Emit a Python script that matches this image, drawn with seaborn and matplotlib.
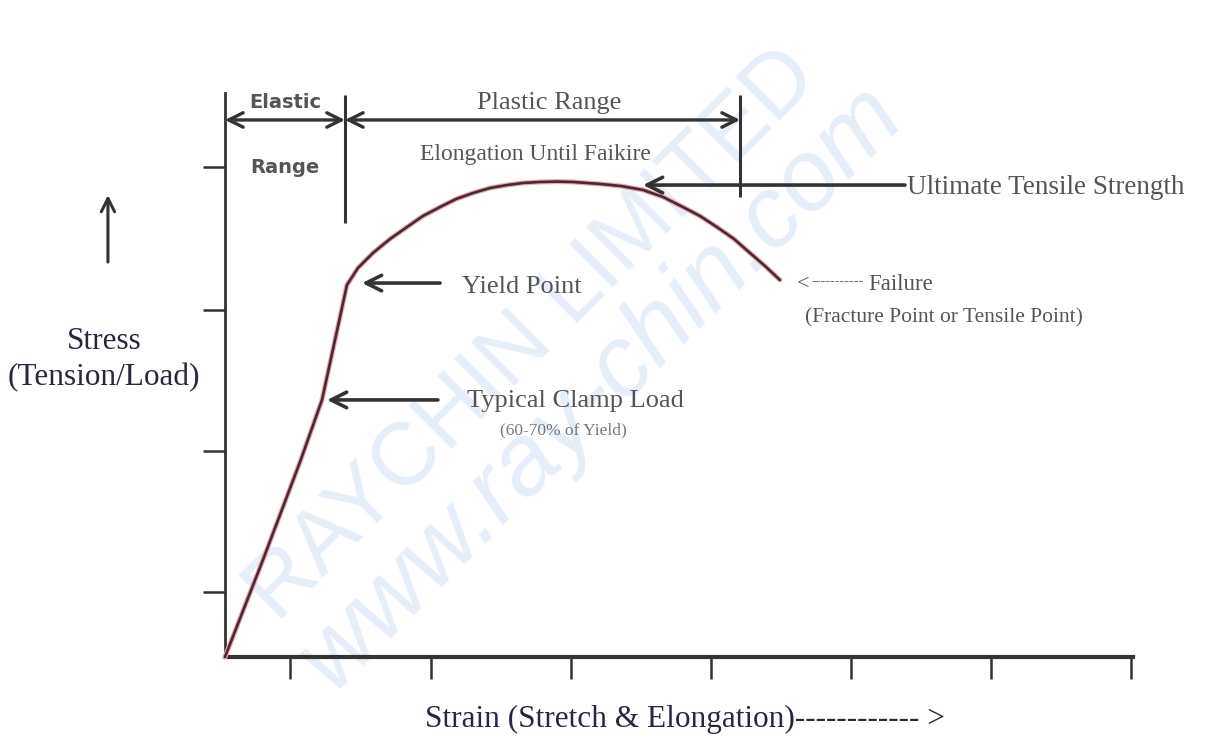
import matplotlib
matplotlib.use('Agg')
import matplotlib.pyplot as plt
import seaborn as sns

#style
sns.set_theme(style='white')
plt.rcParams['font.family'] = ['Liberation Serif', 'DejaVu Serif']

#colours
LINE_DARK = '#4a2832'
LINE_HALO = '#e9a9b0'
INK = '#333333'
TEXT_GREY = '#555555'
TEXT_NAVY = '#2b2540'
WATERMARK = '#e6eef9'

#curve (strain, stress in grid units)
strain = [0.0, 0.271, 0.536, 0.693, 0.871, 0.950, 1.057, 1.179, 1.300, 1.414,
          1.536, 1.650, 1.771, 1.893, 2.014, 2.129, 2.250, 2.371, 2.486, 2.679,
          2.829, 2.986, 3.129, 3.271, 3.393, 3.514, 3.636, 3.750, 3.857, 3.964]
stress = [0.0, 0.693, 1.393, 1.836, 2.657, 2.779, 2.886, 2.986, 3.071, 3.150,
          3.214, 3.271, 3.314, 3.350, 3.371, 3.386, 3.393, 3.396, 3.393, 3.379,
          3.364, 3.336, 3.286, 3.214, 3.150, 3.071, 2.986, 2.886, 2.793, 2.693]

#axis ticks
x_ticks = [0.464, 1.471, 2.471, 3.471, 4.471, 5.471, 6.471]
y_ticks = [0.464, 1.471, 2.479, 3.5]
x_end = 6.486
y_end = 4.03

#range boundaries
elastic_end = 0.857
plastic_end = 3.679
range_arrow_y = 3.836

fig = plt.figure(figsize=(12.11, 7.38), dpi=100)
ax = fig.add_axes([0, 0, 1, 1])
ax.set_xlim(-1.607, 7.043)
ax.set_ylim(-0.579, 4.693)

#watermark
ax.text(2.2, 2.30, 'RAYCHIN LIMITED', rotation=45, fontsize=64,
        family='Liberation Sans', color=WATERMARK, ha='center', va='center', zorder=0)
ax.text(2.68, 1.93, 'www.ray-chin.com', rotation=45, fontsize=72, style='italic',
        family='Liberation Sans', color=WATERMARK, ha='center', va='center', zorder=0)

#curve
sns.lineplot(x=strain, y=stress, sort=False, estimator=None, ax=ax,
             color=LINE_HALO, lw=3.6, zorder=3)
sns.lineplot(x=strain, y=stress, sort=False, estimator=None, ax=ax,
             color=LINE_DARK, lw=1.9, zorder=4)

#axes
for s in ['top', 'right']:
    ax.spines[s].set_visible(False)
ax.spines['left'].set_position(('data', 0))
ax.spines['bottom'].set_position(('data', 0))
ax.spines['left'].set_bounds(0, y_end)
ax.spines['bottom'].set_bounds(0, x_end)
ax.spines['left'].set_color(INK)
ax.spines['bottom'].set_color(INK)
ax.spines['left'].set_linewidth(2.0)
ax.spines['bottom'].set_linewidth(3.0)
ax.set_xticks(x_ticks)
ax.set_yticks(y_ticks)
ax.set_xticklabels([])
ax.set_yticklabels([])
ax.tick_params(axis='both', direction='out', length=16, width=1.8, color=INK,
               bottom=True, left=True)

#range markers
ax.vlines(elastic_end, 3.1, 4.014, color=INK, lw=2.2)
ax.vlines(plastic_end, 3.286, 4.014, color=INK, lw=2.2)
arrow_kw = dict(arrowstyle='<->', lw=2.4, color=INK, mutation_scale=26,
                shrinkA=0, shrinkB=0)
ax.annotate('', xy=(0, range_arrow_y), xytext=(elastic_end, range_arrow_y),
            arrowprops=arrow_kw)
ax.annotate('', xy=(elastic_end, range_arrow_y), xytext=(plastic_end, range_arrow_y),
            arrowprops=arrow_kw)

ax.text(0.429, 3.964, 'Elastic', family='DejaVu Sans', weight='bold', fontsize=14,
        color=TEXT_GREY, ha='center', va='center')
ax.text(0.429, 3.493, 'Range', family='DejaVu Sans', weight='bold', fontsize=14,
        color=TEXT_GREY, ha='center', va='center')
ax.text(2.314, 3.957, 'Plastic Range', fontsize=19, color=TEXT_GREY,
        ha='center', va='center')
ax.text(2.221, 3.586, 'Elongation Until Faikire', fontsize=17, color=TEXT_GREY,
        ha='center', va='center')

#pointer arrows
pointer_kw = dict(arrowstyle='->', lw=2.6, color=INK, mutation_scale=28,
                  shrinkA=0, shrinkB=0)
ax.annotate('', xy=(2.986, 3.371), xytext=(4.857, 3.371), arrowprops=pointer_kw)
ax.text(4.871, 3.35, 'Ultimate Tensile Strength', fontsize=19.5, color=TEXT_GREY,
        ha='left', va='center')

ax.annotate('', xy=(0.979, 2.671), xytext=(1.536, 2.671), arrowprops=pointer_kw)
ax.text(1.693, 2.643, 'Yield Point', fontsize=19, color=TEXT_GREY,
        ha='left', va='center')

ax.annotate('', xy=(0.729, 1.836), xytext=(1.521, 1.836), arrowprops=pointer_kw)
ax.text(1.729, 1.829, 'Typical Clamp Load', fontsize=19, color=TEXT_GREY,
        ha='left', va='center')
ax.text(2.414, 1.621, '(60-70% of Yield)', fontsize=12.5, color='#777777',
        ha='center', va='center')

ax.text(4.086, 2.664, '<', fontsize=16, color=TEXT_GREY, ha='left', va='center')
ax.text(4.186, 2.68, '-----------', fontsize=10.5, weight='bold', color='#444444',
        ha='left', va='center')
ax.text(4.593, 2.664, 'Failure', fontsize=16.5, color=TEXT_GREY,
        ha='left', va='center')
ax.text(4.143, 2.421, '(Fracture Point or Tensile Point)', fontsize=15.5,
        color=TEXT_GREY, ha='left', va='center')

#axis titles
ax.annotate('', xy=(-0.836, 3.3), xytext=(-0.836, 2.821),
            arrowprops=dict(arrowstyle='->', lw=2.2, color=INK,
                            mutation_scale=24, shrinkA=0, shrinkB=0))
ax.text(-0.864, 2.25, 'Stress', fontsize=22.5, color=TEXT_NAVY,
        ha='center', va='center')
ax.text(-0.864, 1.993, '(Tension/Load)', fontsize=22.5, color=TEXT_NAVY,
        ha='center', va='center')
ax.text(3.286, -0.45, 'Strain (Stretch & Elongation)------------ >', fontsize=22.5,
        color=TEXT_NAVY, ha='center', va='center')

fig.savefig('out.png', dpi=100, facecolor='white')
